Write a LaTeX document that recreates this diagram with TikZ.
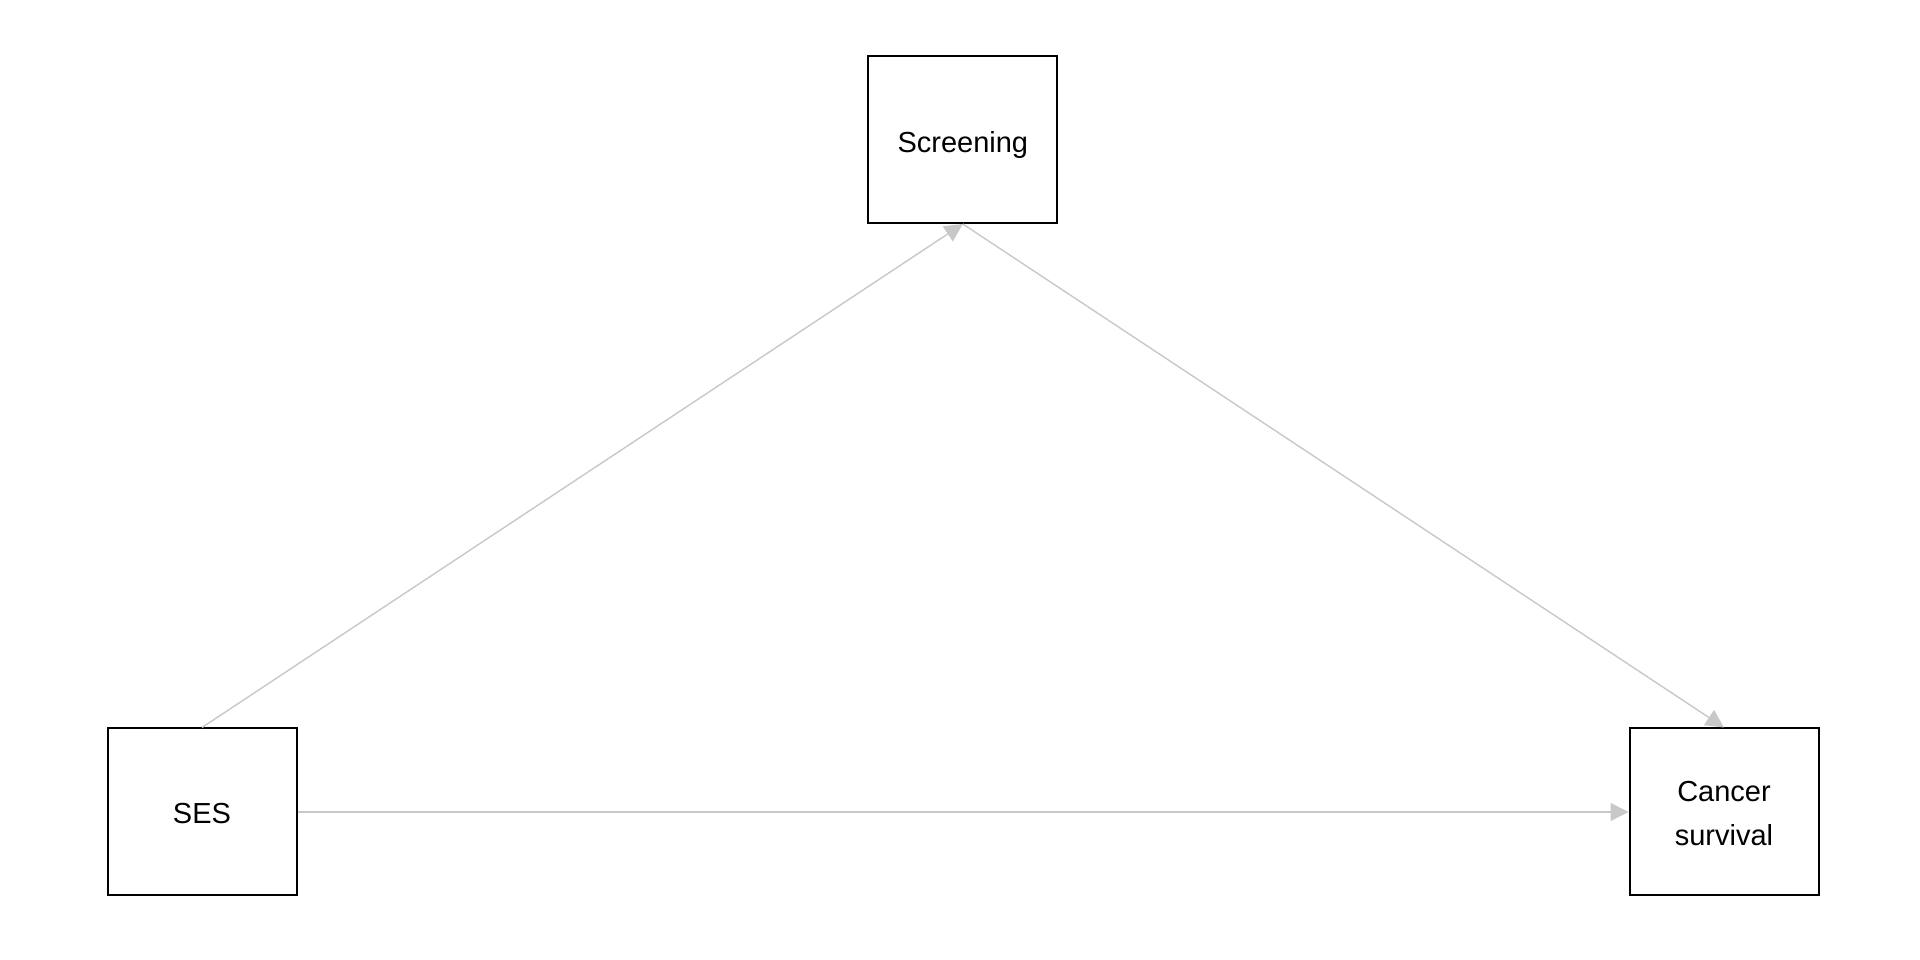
\documentclass[tikz,border=0pt]{standalone}
\usepackage{fontspec}
\setmainfont{Liberation Sans}
\usetikzlibrary{arrows.meta}
\definecolor{edgegray}{RGB}{200,200,200}
\tikzset{
  varbox/.style={draw=black, line width=2pt, rectangle, minimum width=189pt, minimum height=167pt,
    align=center, inner sep=0pt, font=\fontsize{29pt}{44pt}\selectfont},
  edge/.style={draw=edgegray, line width=1.4pt, -{Triangle[length=18pt,width=18pt]}}
}
\newcommand{\lowertext}[2]{\raisebox{-#1}[\height][\depth]{#2}}
\begin{document}
\begin{tikzpicture}[x=1pt,y=1pt]
\useasboundingbox (0,0) rectangle (1920,960);
\node[varbox] (ses) at (202,148) {\lowertext{2pt}{SES}};
\node[varbox] (scr) at (962.8,820.5) {\lowertext{6pt}{Screening}};
\node[varbox] (can) at (1724,148) {\lowertext{3pt}{\begin{tabular}{@{}c@{}}Cancer\\survival\end{tabular}}};
\draw[edge] (ses.north) -- (scr.south);
\draw[edge] (scr.south) -- (can.north);
\draw[edge] (ses.east) -- (can.west);
\end{tikzpicture}
\end{document}
